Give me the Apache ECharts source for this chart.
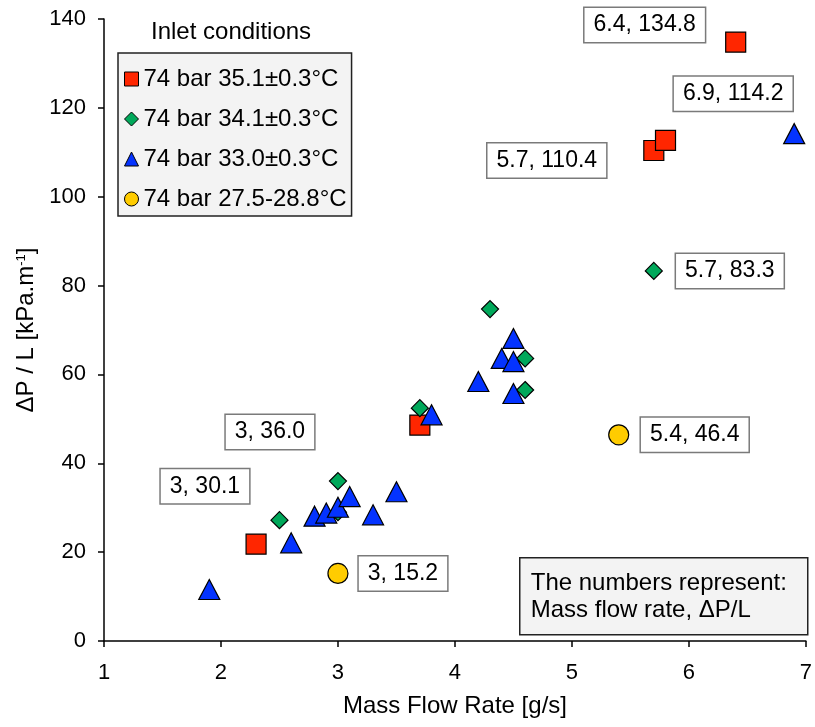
<!DOCTYPE html>
<html>
<head>
<meta charset="utf-8">
<script src="https://cdn.jsdelivr.net/npm/echarts@6/dist/echarts.min.js"></script>
<style>
  html, body { margin: 0; padding: 0; background: #fff; }
  #cn { width: 815px; height: 727px; }
</style>
</head>
<body>
<div id="cn"></div>
<script>
'use strict';

// inlet conditions (legend names)
const arrNames = ['74 bar 35.1±0.3°C', '74 bar 34.1±0.3°C', '74 bar 33.0±0.3°C', '74 bar 27.5-28.8°C'];

// mass flow rate [g/s], dP/L [kPa/m]
const redX = [2.3, 3.7, 5.7, 5.8, 6.4];
const redY = [21.8, 48.6, 110.4, 112.7, 134.8];

const greenX = [2.5, 3.0, 3.0, 3.7, 4.3, 4.6, 4.6, 5.7];
const greenY = [27.2, 29.0, 36.0, 52.4, 74.7, 63.6, 56.5, 83.3];

const blueX = [1.9, 2.6, 2.8, 2.9, 3.0, 3.1, 3.3, 3.5, 3.8, 4.2, 4.4, 4.5, 4.5, 4.5, 6.9];
const blueY = [11.6, 22.1, 28.1, 28.8, 30.1, 32.5, 28.4, 33.6, 50.9, 58.4, 63.6, 68.1, 62.9, 55.7, 114.2];

const yellowX = [3.0, 5.4];
const yellowY = [15.2, 46.4];

const xTicks = [1, 2, 3, 4, 5, 6, 7];
const yTicks = [0, 20, 40, 60, 80, 100, 120, 140];

// which points carry a "x, y" box: [series index, point index]
const arrLabelled = [[0, 4], [2, 14], [0, 2], [1, 7], [3, 1], [1, 2], [2, 4], [3, 0]];

const noteLines = ['The numbers represent:', 'Mass flow rate, ΔP/L'];

//main
{
    const FONT = 'Liberation Sans, Arial, Helvetica, sans-serif';
    const cols = ['#ff2600', '#00a85a', '#0433ff', '#ffcc00'];
    const syms = ['rect', 'diamond', 'triangle', 'circle'];
    const sizes = [20, 17, [21, 20], 20];
    const xs = [redX, greenX, blueX, yellowX];
    const ys = [redY, greenY, blueY, yellowY];
    const zs = [2, 3, 4, 5];

    // label box offsets from the point (px)
    const offs = [[-91, -17], [-61, -40], [-107, 10], [76, 0], [76, 0], [-68, -49], [-133, -21], [65, 0]];

    const lblStyle = {
        show: true,
        position: 'inside',
        fontFamily: FONT,
        fontSize: 23,
        color: '#000',
        backgroundColor: '#fff',
        borderColor: '#7a7a7a',
        borderWidth: 1.5,
        padding: [6, 9, 5, 9]
    };

    const series = arrNames.map((name, si) => {
        const data = xs[si].map((x, i) => {
            const item = { value: [x, ys[si][i]] };
            const k = arrLabelled.findIndex(a => a[0] === si && a[1] === i);
            if (k >= 0) {
                item.label = Object.assign({}, lblStyle, {
                    offset: offs[k],
                    formatter: `${x}, ${ys[si][i].toFixed(1)}`
                });
            }
            return item;
        });
        return {
            name: name,
            type: 'scatter',
            symbol: syms[si],
            symbolSize: sizes[si],
            z: zs[si],
            itemStyle: {
                color: cols[si],
                borderColor: '#000',
                borderWidth: 1.2,
                opacity: 1
            },
            label: { show: false },
            emphasis: { disabled: true },
            data: data
        };
    });

    const axisCommon = {
        axisLine: { show: true, lineStyle: { color: '#000', width: 1.5 } },
        axisTick: { show: true, inside: false, length: 6, lineStyle: { color: '#000', width: 1.5 } },
        splitLine: { show: false },
        nameLocation: 'middle',
        nameTextStyle: { fontFamily: FONT, fontSize: 24, color: '#000' }
    };

    const option = {
        animation: false,
        backgroundColor: '#fff',
        textStyle: { fontFamily: FONT },
        title: {
            text: 'Inlet conditions',
            left: 151,
            top: 20,
            padding: 0,
            textStyle: { fontFamily: FONT, fontSize: 24, fontWeight: 'normal', color: '#000' }
        },
        legend: {
            orient: 'vertical',
            left: 118,
            top: 53,
            padding: [14, 5, 5, 6],
            itemGap: 16,
            itemWidth: 14,
            itemHeight: 14,
            backgroundColor: '#f3f3f3',
            borderColor: '#222',
            borderWidth: 1.5,
            textStyle: { fontFamily: FONT, fontSize: 24, color: '#000' },
            data: arrNames.map((n, i) => ({
                name: n,
                icon: syms[i],
                itemStyle: { color: cols[i], borderColor: '#000', borderWidth: 1 }
            }))
        },
        grid: {
            left: 104,
            right: 7,
            top: 19,
            bottom: 86
        },
        xAxis: Object.assign({}, axisCommon, {
            type: 'value',
            min: xTicks[0],
            max: xTicks[xTicks.length - 1],
            interval: 1,
            name: 'Mass Flow Rate [g/s]',
            nameGap: 53,
            axisLabel: { fontFamily: FONT, fontSize: 22, color: '#000', margin: 21 }
        }),
        yAxis: Object.assign({}, axisCommon, {
            type: 'value',
            min: yTicks[0],
            max: yTicks[yTicks.length - 1],
            interval: 20,
            name: '{n|ΔP / L [kPa.m}{s|-1}{n|]}',
            nameGap: 46,
            nameTextStyle: {
                fontFamily: FONT,
                fontSize: 24,
                color: '#000',
                rich: {
                    n: { fontFamily: FONT, fontSize: 24, color: '#000' },
                    s: { fontFamily: FONT, fontSize: 13, color: '#000', padding: [0, 0, 10, 0] }
                }
            },
            axisLabel: { fontFamily: FONT, fontSize: 22, color: '#000', margin: 18 }
        }),
        graphic: [{
            type: 'group',
            left: 519,
            top: 557,
            children: [{
                type: 'rect',
                shape: { x: 0, y: 0, width: 288, height: 77 },
                style: { fill: '#f3f3f3', stroke: '#222', lineWidth: 1.5 }
            }, {
                type: 'text',
                x: 11,
                y: 12,
                style: {
                    text: noteLines.join('\n'),
                    font: `24px ${FONT}`,
                    lineHeight: 27,
                    fill: '#000'
                }
            }]
        }],
        series: series
    };

    const chart = echarts.init(document.getElementById('cn'));
    chart.setOption(option);
}
</script>
</body>
</html>
